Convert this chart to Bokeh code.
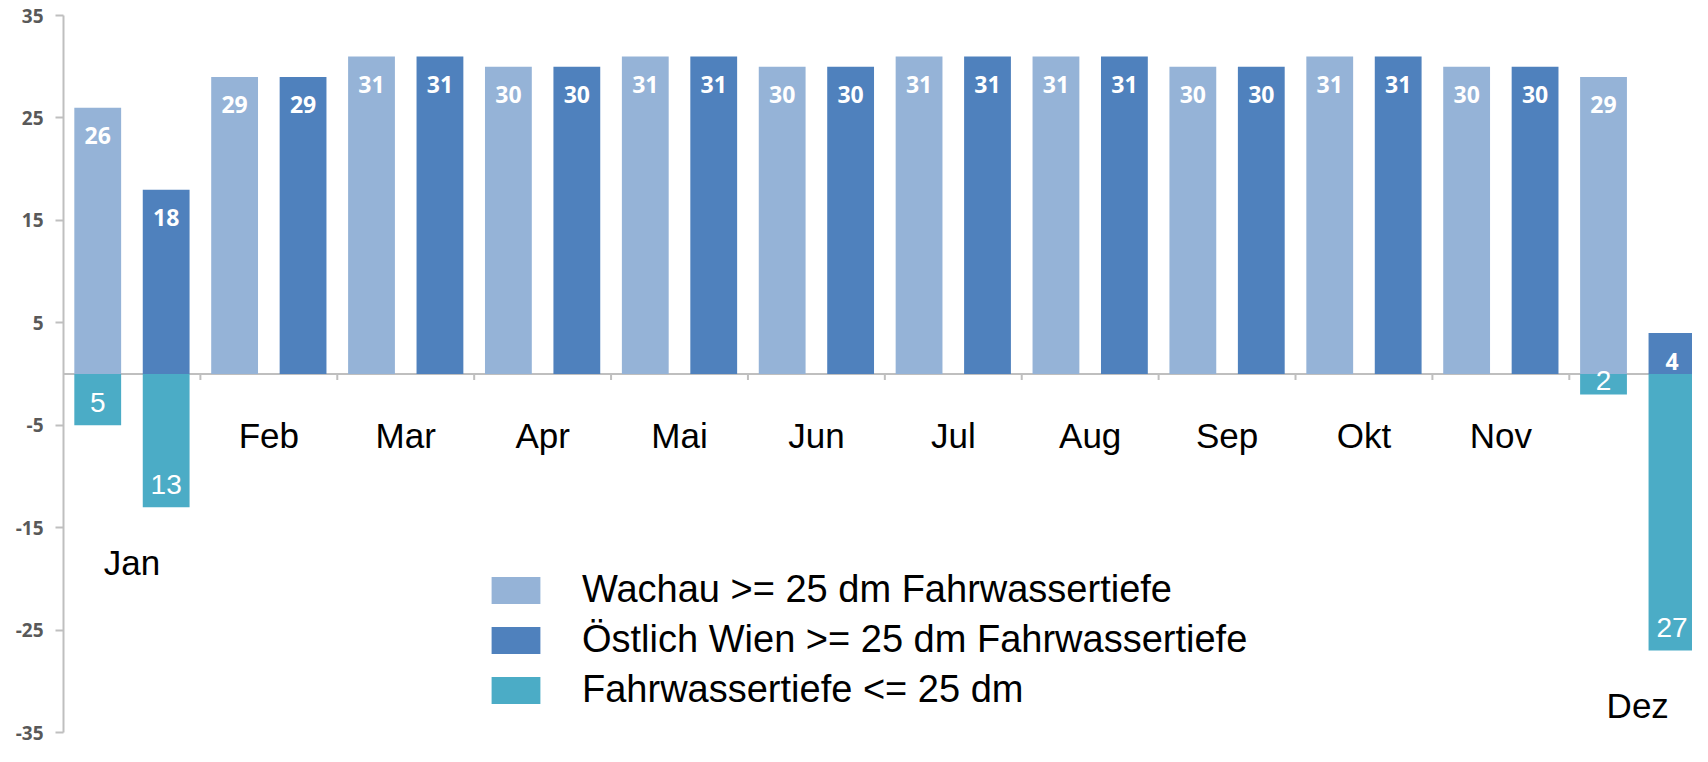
from bokeh.plotting import figure
from bokeh.models import Range1d, FixedTicker, Span, Legend, LegendItem, ColumnDataSource
from bokeh.core.properties import value
from bokeh.embed import file_html
from bokeh.resources import INLINE

# ---------------- data ----------------
months = ["Jan", "Feb", "Mar", "Apr", "Mai", "Jun", "Jul", "Aug", "Sep", "Okt", "Nov", "Dez"]
wachau = [26, 29, 31, 30, 31, 30, 31, 31, 30, 31, 30, 29]          # days >= 25 dm, Wachau
oestlich = [18, 29, 31, 30, 31, 30, 31, 31, 30, 31, 30, 4]         # days >= 25 dm, east of Vienna
wachau_low = [5, 0, 0, 0, 0, 0, 0, 0, 0, 0, 0, 2]                  # days <= 25 dm, Wachau
oestlich_low = [13, 0, 0, 0, 0, 0, 0, 0, 0, 0, 0, 27]              # days <= 25 dm, east of Vienna
y_ticks = [-35, -25, -15, -5, 5, 15, 25, 35]
series_names = ["Wachau >= 25 dm Fahrwassertiefe",
                "Östlich Wien >= 25 dm Fahrwassertiefe",
                "Fahrwassertiefe <= 25 dm"]

# ---------------- styling / layout ----------------
C_LIGHT, C_DARK, C_TEAL = "#95B3D7", "#4F81BD", "#4BACC6"
AXIS_C = "#BFBFBF"
W, H = 1692, 746
LEFT = 63
TOP_PX, BOT_PX = 15, 732              # screen rows of +35 and -35
PPU = (BOT_PX - TOP_PX) / 70.0        # pixels per y unit
Y1 = 35 + TOP_PX / PPU
Y0 = -35 - (H - BOT_PX) / PPU
X0, X1 = 0.0, 11.9
BAR_W = 0.342

n = len(months)
xw = [i + 0.25 for i in range(n)]
xo = [i + 0.75 for i in range(n)]

src = ColumnDataSource(dict(
    xw=xw, xo=xo, w=wachau, o=oestlich,
    wl=[-v for v in wachau_low], ol=[-v for v in oestlich_low],
    w_txt=[str(v) for v in wachau], o_txt=[str(v) for v in oestlich],
))

p = figure(width=W, height=H, x_range=Range1d(X0, X1), y_range=Range1d(Y0, Y1),
           output_backend="svg", toolbar_location=None, x_axis_location=None,
           min_border_left=LEFT, min_border_right=0, min_border_top=0, min_border_bottom=0)
p.grid.visible = False
p.outline_line_color = None
p.background_fill_color = "white"

ax = p.yaxis[0]
ax.ticker = FixedTicker(ticks=y_ticks)
ax.major_label_overrides = {t: str(t) for t in y_ticks}
ax.bounds = (-35, 35)
ax.axis_line_color = AXIS_C
ax.axis_line_width = 2
ax.major_tick_line_color = AXIS_C
ax.major_tick_line_width = 2
ax.major_tick_out = 8
ax.major_tick_in = 0
ax.minor_tick_line_color = None
ax.major_label_standoff = 12
ax.major_label_text_font = "Open Sans"
ax.major_label_text_font_style = "bold"
ax.major_label_text_font_size = "19px"
ax.major_label_text_color = "#595959"

# zero (category) axis line and group boundary ticks
p.add_layout(Span(location=0, dimension="width", line_color=AXIS_C, line_width=2, level="underlay"))
bounds_x = list(range(1, n))
p.segment(x0=bounds_x, y0=[0] * len(bounds_x), x1=bounds_x, y1=[-6 / PPU] * len(bounds_x),
          line_color=AXIS_C, line_width=2)

# bars
r_w = p.vbar(x="xw", top="w", bottom=0, width=BAR_W, fill_color=C_LIGHT, line_color=None, source=src)
r_o = p.vbar(x="xo", top="o", bottom=0, width=BAR_W, fill_color=C_DARK, line_color=None, source=src)
r_wl = p.vbar(x="xw", top=0, bottom="wl", width=BAR_W, fill_color=C_TEAL, line_color=None, source=src)
r_ol = p.vbar(x="xo", top=0, bottom="ol", width=BAR_W, fill_color=C_TEAL, line_color=None, source=src)

# positive value labels
for xcol, ycol, tcol in (("xw", "w", "w_txt"), ("xo", "o", "o_txt")):
    p.text(x=xcol, y=ycol, text=tcol, source=src, y_offset=28,
           text_align="center", text_baseline="middle",
           text_font=value("Open Sans"), text_font_style="bold",
           text_font_size="23px", text_color="white")

# negative value labels
nx, ny, nt, noff = [], [], [], []
for xs, vals in ((xw, wachau_low), (xo, oestlich_low)):
    for x, v in zip(xs, vals):
        if v:
            nx.append(x)
            ny.append(-v)
            nt.append(str(v))
            noff.append(-min(23.0, v * PPU / 2 + 3.5))
neg_src = ColumnDataSource(dict(x=nx, y=ny, t=nt, off=noff))
p.text(x="x", y="y", text="t", y_offset="off", source=neg_src,
       text_align="center", text_baseline="middle",
       text_font=value("Liberation Sans"), text_font_size="28px", text_color="white")

# month labels below lowest bar of each month
mx = [i + 0.5 for i in range(n)]
my = [min(0, -a, -b) for a, b in zip(wachau_low, oestlich_low)]
moff = [55 if y < 0 else 61 for y in my]
p.text(x=mx, y=my, text=months, y_offset=moff,
       text_align="center", text_baseline="middle",
       text_font=value("Liberation Sans"), text_font_size="35px", text_color="black")

legend = Legend(items=[LegendItem(label=series_names[0], renderers=[r_w]),
                       LegendItem(label=series_names[1], renderers=[r_o]),
                       LegendItem(label=series_names[2], renderers=[r_wl])],
                location=(422, 35), orientation="vertical",
                glyph_width=61, glyph_height=34, label_standoff=36, spacing=7,
                padding=0, margin=0, border_line_color=None, background_fill_alpha=0,
                label_text_font="Liberation Sans", label_text_font_size="38px",
                label_text_color="black")
p.add_layout(legend)

open("out.html", "w").write(file_html(p, INLINE))
